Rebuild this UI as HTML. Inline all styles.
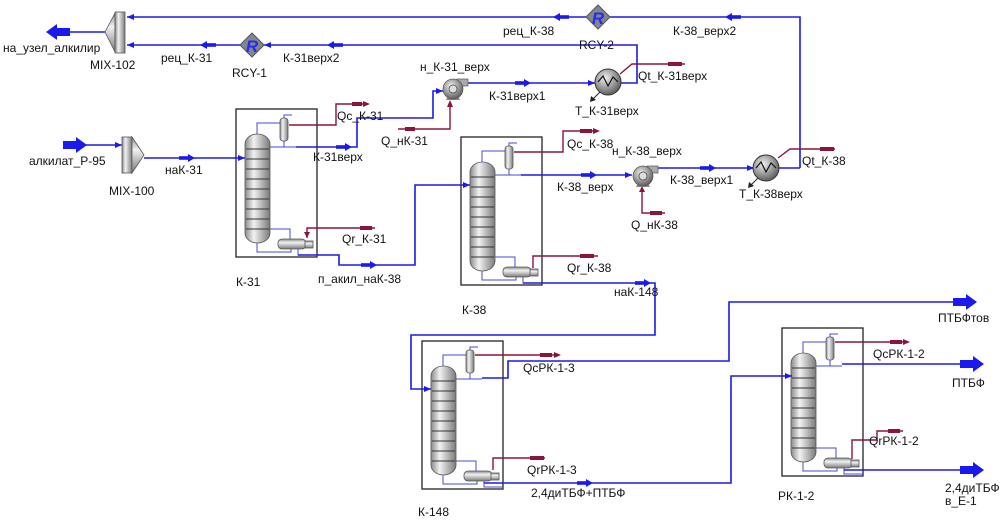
<!DOCTYPE html>
<html><head><meta charset="utf-8"><style>
html,body{margin:0;padding:0;background:#fff;}
svg{display:block;}
text{font-family:"Liberation Sans",sans-serif;font-size:12px;fill:#111;}
</style></head><body>
<svg width="1004" height="520" viewBox="0 0 1004 520" xmlns="http://www.w3.org/2000/svg">
<defs>
<linearGradient id="gv" x1="0" x2="1" y1="0" y2="0">
<stop offset="0" stop-color="#8a8a8a"/><stop offset="0.35" stop-color="#f2f2f2"/><stop offset="1" stop-color="#7a7a7a"/>
</linearGradient>
<linearGradient id="gh" x1="0" x2="0" y1="0" y2="1">
<stop offset="0" stop-color="#8a8a8a"/><stop offset="0.35" stop-color="#f2f2f2"/><stop offset="1" stop-color="#7a7a7a"/>
</linearGradient>
<radialGradient id="gr" cx="0.4" cy="0.35" r="0.7">
<stop offset="0" stop-color="#f0f0f0"/><stop offset="1" stop-color="#555"/>
</radialGradient>
<g id="col">
<rect x="0" y="0" width="81" height="148" fill="#fff" stroke="#222" stroke-width="1.3"/>
<g fill="none" stroke="#4a4ad8" stroke-width="1">
<polyline points="21,25 21,14 45,14"/>
<polyline points="48,9 48,6 56,6"/>
<polyline points="48,32 48,38"/>
<polyline points="34,38 60,38"/>
<polyline points="21,134 21,143 55,143 55,140"/>
<polyline points="34,120 54,120 54,130"/>
<polyline points="62,140 62,146 81,146"/>
</g>
<rect x="9" y="25" width="25" height="109" rx="12.5" ry="10" fill="url(#gv)" stroke="#555" stroke-width="0.8"/>
<g stroke="#333" stroke-width="0.9">
<line x1="10" y1="40" x2="33" y2="40"/><line x1="10" y1="50" x2="33" y2="50"/>
<line x1="10" y1="60" x2="33" y2="60"/><line x1="10" y1="70" x2="33" y2="70"/>
<line x1="10" y1="80" x2="33" y2="80"/><line x1="10" y1="90" x2="33" y2="90"/>
<line x1="10" y1="100" x2="33" y2="100"/><line x1="10" y1="110" x2="33" y2="110"/>
<line x1="10" y1="120" x2="33" y2="120"/>
</g>
<rect x="44" y="9" width="8" height="23" rx="3" fill="url(#gv)" stroke="#555" stroke-width="0.8"/>
<rect x="42" y="130" width="28" height="10" rx="4" fill="url(#gh)" stroke="#555" stroke-width="0.8"/>
<rect x="69" y="132" width="8" height="7" fill="url(#gh)" stroke="#555" stroke-width="0.8"/>
</g>
<g id="mk"><rect x="-12" y="-1.8" width="10" height="3.6"/><polygon points="-3,-4 4,0 -3,4"/></g>
<g id="big"><rect x="-22" y="-4" width="14" height="8"/><polygon points="-9,-8 2,0 -9,8"/></g>
</defs>

<use href="#col" x="236" y="109"/>
<use href="#col" x="461" y="137"/>
<use href="#col" x="422" y="341"/>
<use href="#col" x="782" y="328"/>

<g fill="none" stroke="#1a1aee" stroke-width="1.6">
<polyline points="800,168 800,17 127,17"/>
<polyline points="621,83 637,83 637,45 127,45"/>
<line x1="50" y1="32" x2="106" y2="32"/>
<line x1="85" y1="145" x2="122" y2="145"/>
<line x1="144" y1="158" x2="245" y2="158"/>
<polyline points="296,147 357,147 357,118 433,118 433,91 443,91"/>
<line x1="468" y1="83" x2="595" y2="83"/>
<polyline points="298,255 317,255 339,255 339,265 415,265 415,185 470,185"/>
<line x1="521" y1="175" x2="632" y2="175"/>
<line x1="655" y1="168" x2="754" y2="168"/>
<line x1="779" y1="168" x2="800" y2="168"/>
<polyline points="523,283 542,283 655,283 655,335 411,335 411,389 431,389"/>
<polyline points="482,378 508,378 508,361 729,361 729,302 955,302"/>
<polyline points="484,483 503,483 731,483 731,376 792,376"/>
<line x1="842" y1="364" x2="962" y2="364"/>
<line x1="844" y1="470" x2="962" y2="470"/>
</g>
<g fill="#1a1aee">
<polygon points="127,17 134,14 134,20"/>
<polygon points="127,45 134,42 134,48"/>
<polygon points="122,145 115,142 115,148"/>
<polygon points="245,158 238,155 238,161"/>
<polygon points="443,91 436,88 436,94"/>
<polygon points="595,83 588,80 588,86"/>
<polygon points="470,185 463,182 463,188"/>
<polygon points="632,175 625,172 625,178"/>
<polygon points="754,168 747,165 747,171"/>
<polygon points="431,389 424,386 424,392"/>
<polygon points="792,376 785,373 785,379"/>
<polygon points="592,17 599,14 599,20" />
<polygon points="264,45 271,42 271,48" />
<use href="#mk" transform="translate(543,17) rotate(180) translate(-14,0)"/>
<use href="#mk" transform="translate(715,17) rotate(180) translate(-14,0)"/>
<use href="#mk" transform="translate(190,45) rotate(180) translate(-14,0)"/>
<use href="#mk" transform="translate(317,45) rotate(180) translate(-14,0)"/>
<use href="#mk" x="191" y="158"/>
<use href="#mk" x="348" y="147"/>
<use href="#mk" x="527" y="83"/>
<use href="#mk" x="373" y="265"/>
<use href="#mk" x="593" y="175"/>
<use href="#mk" x="712" y="168"/>
<use href="#mk" x="647" y="283"/>
<use href="#mk" x="589" y="483"/>
<use href="#big" x="975" y="302"/>
<use href="#big" x="982" y="364"/>
<use href="#big" x="982" y="470"/>
<use href="#big" x="85" y="145"/>
<use href="#big" transform="translate(48,32) rotate(180)"/>
</g>

<g fill="none" stroke="#8b1538" stroke-width="1.4">
<polyline points="289,125 336,125 336,104 365,104"/>
<polyline points="398,129 450,129 450,104"/>
<polyline points="375,228 307,228 307,238"/>
<polyline points="685,64 632,64 620,74"/>
<polyline points="514,152 563,152 563,131 595,131"/>
<polyline points="665,213 642,213 642,188"/>
<polyline points="835,149 790,149 778,158"/>
<polyline points="598,256 533,256 533,268"/>
<polyline points="475,355 555,355"/>
<polyline points="545,458 493,458 493,470"/>
<polyline points="835,342 905,342"/>
<polyline points="903,431 877,431 877,440 852,440 852,459"/>
</g>
<g fill="#8b1538">
<polygon points="370,104 363,101 363,107"/><rect x="352" y="102" width="10" height="4"/>
<polygon points="450,100 447,107 453,107"/><rect x="405" y="127" width="10" height="4"/>
<polygon points="307,238 304,232 310,232"/><rect x="360" y="226" width="12" height="4"/>
<rect x="668" y="62" width="14" height="4"/>
<polygon points="600,131 593,128 593,134"/><rect x="580" y="129" width="12" height="4"/>
<polygon points="642,186 639,192 645,192"/><rect x="650" y="211" width="12" height="4"/>
<rect x="820" y="147" width="14" height="4"/>
<rect x="580" y="254" width="14" height="4"/>
<polygon points="561,355 554,352 554,358"/><rect x="540" y="353" width="12" height="4"/>
<rect x="530" y="456" width="14" height="4"/>
<polygon points="910,342 903,339 903,345"/><rect x="890" y="340" width="12" height="4"/>
<rect x="888" y="429" width="12" height="4"/>
</g>

<polygon points="105,32 115,13 115,52" fill="url(#gh)" stroke="#555" stroke-width="0.8"/>
<rect x="115" y="12" width="10" height="41" fill="url(#gv)" stroke="#555" stroke-width="0.8"/>
<rect x="122" y="137" width="10" height="36" fill="url(#gv)" stroke="#555" stroke-width="0.8"/>
<polygon points="132,137 144,155 132,173" fill="url(#gh)" stroke="#555" stroke-width="0.8"/>

<g>
<polygon points="252,33 264,45 252,57 240,45" fill="#7f8890" stroke="#555"/>
<text x="252" y="52" text-anchor="middle" style="font-size:17px;font-weight:bold;font-style:italic;fill:#2a2af0">R</text>
<polygon points="598,5 610,17 598,29 586,17" fill="#7f8890" stroke="#555"/>
<text x="598" y="24" text-anchor="middle" style="font-size:17px;font-weight:bold;font-style:italic;fill:#2a2af0">R</text>
</g>

<g>
<rect x="457" y="79" width="11" height="7" fill="#aaa" stroke="#555" stroke-width="0.7"/>
<polygon points="446,100 460,100 457,94 449,94" fill="#888"/>
<circle cx="453" cy="89" r="10" fill="url(#gr)" stroke="#555" stroke-width="0.7"/>
<circle cx="453" cy="89" r="4" fill="#ddd" stroke="#444" stroke-width="0.7"/>
<rect x="647" y="166" width="11" height="7" fill="#aaa" stroke="#555" stroke-width="0.7"/>
<polygon points="636,187 650,187 647,181 639,181" fill="#888"/>
<circle cx="643" cy="176" r="10" fill="url(#gr)" stroke="#555" stroke-width="0.7"/>
<circle cx="643" cy="176" r="4" fill="#ddd" stroke="#444" stroke-width="0.7"/>
</g>
<g>
<circle cx="608" cy="82" r="13" fill="url(#gr)" stroke="#333"/>
<polyline points="598,82 603,76 608,86 613,77 618,82" fill="none" stroke="#111" stroke-width="1.2"/>
<line x1="600" y1="92" x2="592" y2="100" stroke="#222"/><polygon points="590,102 591,96 596,100" fill="#222"/>
<circle cx="766" cy="168" r="13" fill="url(#gr)" stroke="#333"/>
<polyline points="756,168 761,162 766,172 771,163 776,168" fill="none" stroke="#111" stroke-width="1.2"/>
<line x1="758" y1="178" x2="750" y2="186" stroke="#222"/><polygon points="748,188 749,182 754,186" fill="#222"/>
</g>

<text x="3" y="52">на_узел_алкилир</text>
<text x="90" y="69">MIX-102</text>
<text x="161" y="62">рец_К-31</text>
<text x="232" y="77">RCY-1</text>
<text x="283" y="62">К-31верх2</text>
<text x="420" y="71">н_К-31_верх</text>
<text x="489" y="100">К-31верх1</text>
<text x="575" y="115">Т_К-31верх</text>
<text x="638" y="80">Qt_К-31верх</text>
<text x="503" y="35">рец_К-38</text>
<text x="579" y="49">RCY-2</text>
<text x="673" y="35">К-38_верх2</text>
<text x="29" y="165">алкилат_Р-95</text>
<text x="109" y="195">MIX-100</text>
<text x="165" y="174">наК-31</text>
<text x="337" y="120">Qc_К-31</text>
<text x="313" y="161">К-31верх</text>
<text x="381" y="145">Q_нК-31</text>
<text x="342" y="243">Qr_К-31</text>
<text x="236" y="286">К-31</text>
<text x="318" y="283">п_акил_наК-38</text>
<text x="567" y="148">Qc_К-38</text>
<text x="612" y="155">н_К-38_верх</text>
<text x="557" y="191">К-38_верх</text>
<text x="670" y="184">К-38_верх1</text>
<text x="739" y="198">Т_К-38верх</text>
<text x="802" y="165">Qt_К-38</text>
<text x="631" y="229">Q_нК-38</text>
<text x="567" y="272">Qr_К-38</text>
<text x="614" y="296">наК-148</text>
<text x="462" y="314">К-38</text>
<text x="523" y="372">QcРК-1-3</text>
<text x="527" y="474">QrРК-1-3</text>
<text x="531" y="497">2,4диТБФ+ПТБФ</text>
<text x="418" y="516">К-148</text>
<text x="938" y="322">ПТБФтов</text>
<text x="873" y="358">QcРК-1-2</text>
<text x="952" y="387">ПТБФ</text>
<text x="869" y="445">QrРК-1-2</text>
<text x="945" y="492">2,4диТБФ</text>
<text x="945" y="505">в_Е-1</text>
<text x="778" y="500">РК-1-2</text>
</svg>
</body></html>
